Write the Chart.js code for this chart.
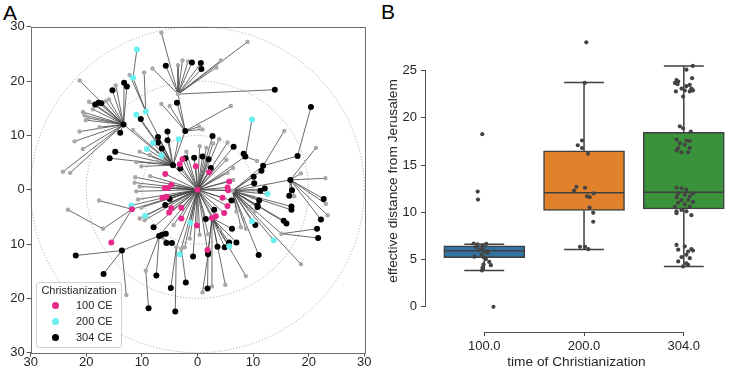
<!DOCTYPE html>
<html>
<head>
<meta charset="utf-8">
<script src="https://cdn.jsdelivr.net/npm/chart.js@4.4.1/dist/chart.umd.min.js"></script>
<style>
  html, body { margin: 0; padding: 0; background: #fff; }
  body { width: 731px; height: 370px; position: relative; overflow: hidden; font-family: 'Liberation Sans', Arial, sans-serif; color: #262626; }
  #chartA { position: absolute; left: 0; top: 0; }
  #chartB { position: absolute; left: 380px; top: 0; }
  .panel { position: absolute; font-size: 21px; line-height: 21px; color: #000; }
  #legendA { position: absolute; left: 36px; top: 282px; width: 84px; height: 64px; border: 1px solid #d0d0d0; border-radius: 3px; background: rgba(255,255,255,0.85); font-size: 11px; }
  #legendA .ttl { position: absolute; left: 0; width: 84px; top: 1px; text-align: center; }
  #legendA .dot { position: absolute; width: 7px; height: 7px; border-radius: 50%; }
  #legendA .lbl { position: absolute; left: 39px; }
</style>
</head>
<body>
<div class="panel" style="left:3px; top:2px;">A</div>
<div class="panel" style="left:381px; top:1px;">B</div>
<canvas id="chartA" width="380" height="370"></canvas>
<canvas id="chartB" width="351" height="370"></canvas>
<div id="legendA"></div>
<script>
// ---- panel A: network, hubs and leaves ----
const hubIds     = ['C', 'D', 'H1', 'E', 'B', 'U2', 'U1', 'F', 'R1', 'R2', 'R3', 'T1', 'S1', 'G', 'S2', 'W', 'M', 'K', 'L', 'N', 'Q', 'Q2'];
const hubX       = [0, -4.4, -13.3, -2.2, -3.5, -9.3, -11.6, 6.3, 16.7, 11.8, 18.0, 8.6, 15.1, 2.6, 1.9, -11.8, -17.0, -6.9, -13.6, -9.3, -2.9, -3.8];
const hubY       = [0, 4.5, 12.0, 10.8, 17.6, 14.4, 20.6, -0.2, 1.8, 4.4, 6.2, 6.1, -8.1, -5.2, -11.9, -3.6, -7.2, -8.5, -11.2, -14.9, -10.8, -10.6];
const hubGroup   = [1, 3, 3, 3, 0, 2, 2, 0, 3, 3, 3, 3, 0, 1, 3, 1, 0, 3, 3, 0, 0, 0];
const hubParent  = [null, 'C', 'D', 'D', 'E', 'D', 'U2', 'C', 'F', 'F', 'R2', 'C', 'F', 'C', 'G', 'C', 'W', 'C', 'K', 'K', 'C', 'C'];

// leaves: [x, y, parent hub]
const nodesNone = [
  [-21.2, 20.1, 'H1'], [-20.3, 13.7, 'H1'], [-20.1, 12.8, 'H1'], [-21.2, 10.7, 'H1'], [-22.1, 8.9, 'H1'],
  [-20.6, 7.5, 'H1'], [-24.2, 3.3, 'H1'], [-22.9, 3.1, 'H1'], [-18.8, 14.8, 'H1'], [-19.5, 16.2, 'H1'],
  [-16.5, 16.3, 'H1'], [-14.7, 19.2, 'H1'], [-17.6, 11.5, 'H1'], [-19.7, 13.2, 'H1'], [-15.9, 16.6, 'H1'],
  [-20.6, 14.3, 'H1'],
  [-11.6, 11.0, 'D'], [-10.4, 7.0, 'D'], [-11.0, 5.1, 'D'], [-10.1, 4.3, 'D'], [-8.6, 6.4, 'D'], [-7.2, 5.2, 'D'],
  [-6.5, 28.9, 'B'], [-8.1, 22.3, 'B'], [-3.5, 22.9, 'B'], [-2.7, 23.8, 'B'], [-1.7, 23.6, 'B'],
  [3.4, 22.5, 'B'], [4.2, 23.8, 'B'], [9.0, 27.2, 'B'],
  [-9.6, 21.6, 'U2'], [-12.2, 21.1, 'U2'],
  [-6.5, 15.8, 'E'], [-5.0, 15.4, 'E'], [6.0, 15.4, 'E'], [0.3, 11.6, 'E'], [0.9, 11.1, 'E'],
  [3.9, 9.3, 'C'], [5.4, 8.7, 'C'], [2.8, 8.5, 'C'], [-2.0, 7.0, 'C'], [0.4, 8.0, 'C'], [1.6, 7.7, 'C'],
  [5.2, 5.5, 'C'], [6.4, 4.0, 'C'], [5.4, 3.1, 'C'], [6.4, 1.8, 'C'],
  [-11.2, 2.3, 'C'], [-11.3, 1.3, 'C'], [-10.4, 0.6, 'C'], [-11.0, -0.3, 'C'], [-10.7, -1.8, 'C'],
  [-10.1, -3.3, 'C'], [-10.4, -5.3, 'C'], [-9.5, -5.6, 'C'], [-8.5, 2.5, 'C'],
  [-2.3, -10.6, 'C'], [-1.4, -9.0, 'C'], [0.4, -8.3, 'C'], [1.9, -8.2, 'C'], [4.0, -7.3, 'C'], [-4.3, -6.5, 'C'],
  [10.7, 5.3, 'T1'], [15.6, 10.8, 'R2'],
  [21.3, 7.7, 'R1'], [23.0, 2.1, 'R1'], [18.6, 3.0, 'R1'], [23.4, -4.7, 'R1'], [23.1, -2.6, 'R1'], [17.4, -1.2, 'R1'],
  [7.0, -4.0, 'F'], [10.3, -4.0, 'F'], [7.8, -6.9, 'F'], [8.7, -7.2, 'F'], [18.6, -13.7, 'F'], [9.3, -3.6, 'F'],
  [8.7, -15.9, 'G'], [5.0, -17.5, 'G'], [2.6, -17.8, 'G'],
  [0.9, -18.9, 'S2'], [-17.7, -2.0, 'W'], [-23.3, -3.7, 'M'], [-12.8, -19.4, 'L']
];
const nodes100 = [
  [-2.7, 5.6, 'C'], [-3.2, 4.7, 'C'], [-0.3, 4.3, 'C'], [2.1, 3.2, 'C'], [-5.8, 2.9, 'C'], [5.7, 1.5, 'C'],
  [5.5, -0.1, 'C'], [5.4, 0.4, 'C'], [-4.7, 0.9, 'C'], [-5.3, 0.3, 'C'], [-5.9, 0.3, 'C'], [-6.3, -1.5, 'C'],
  [-5.6, -1.3, 'C'], [4.5, -1.5, 'C'], [5.4, -3.0, 'C'], [-4.7, -3.4, 'C'], [-2.9, -3.3, 'C'], [-5.1, -4.2, 'C'],
  [4.8, -4.3, 'C'], [-2.9, -5.3, 'C'], [3.3, -4.9, 'C'], [-0.1, -6.6, 'C'], [1.8, -11.1, 'C'],
  [-15.5, -9.7, 'W']
];
const nodes200 = [
  [-10.9, 25.8, 'U1'], [-11.0, 13.8, 'D'], [-8.0, 8.6, 'D'], [-9.1, 7.5, 'D'], [-6.5, 6.3, 'D'], [-3.4, 9.3, 'D'],
  [9.8, 12.9, 'T1'], [12.6, -0.8, 'F'], [9.8, -5.8, 'F'], [13.7, -9.3, 'F'],
  [-11.9, -2.9, 'C'], [-9.4, -4.8, 'C'], [-1.3, -6.1, 'C'], [-3.2, -11.9, 'Q'], [5.7, -10.4, 'G']
];
const nodes304 = [
  [-5.7, 22.8, 'B'], [-1.0, 23.4, 'B'], [0.6, 23.3, 'B'], [0.7, 22.2, 'B'], [13.9, 18.4, 'B'],
  [-3.7, 16.0, 'E'],
  [-15.3, 18.3, 'H1'], [-13.2, 19.7, 'H1'], [-12.7, 19.0, 'H1'], [-18.4, 15.7, 'H1'], [-17.8, 16.0, 'H1'],
  [-17.3, 15.9, 'H1'], [-13.9, 10.5, 'H1'],
  [-10.2, 13.0, 'D'], [-14.8, 7.0, 'D'], [-15.8, 5.8, 'D'], [-7.1, 9.7, 'D'], [-5.4, 10.7, 'D'],
  [-7.1, 8.7, 'D'], [-5.4, 9.1, 'D'], [-6.4, 7.6, 'D'],
  [-3.1, 3.9, 'C'], [-2.2, 5.8, 'C'], [-0.6, 5.9, 'C'], [0.9, 6.1, 'C'], [2.0, 5.6, 'C'], [2.4, 4.0, 'C'],
  [2.7, 9.9, 'C'], [6.5, 7.9, 'C'], [6.1, -2.0, 'C'], [3.0, -3.7, 'C'], [1.5, -5.4, 'C'], [-0.8, -12.3, 'C'],
  [-5.0, -1.7, 'C'], [-5.8, -2.8, 'C'], [-7.9, -6.9, 'C'],
  [8.3, 6.6, 'T1'], [20.4, 15.2, 'R3'],
  [11.5, 3.5, 'F'], [10.1, 2.4, 'F'], [10.2, 1.2, 'F'], [12.1, 0.2, 'F'], [11.3, -0.2, 'F'], [11.1, -2.0, 'F'],
  [10.8, -2.9, 'F'], [10.8, -3.2, 'F'], [16.9, -3.1, 'F'], [16.9, -3.7, 'F'], [15.5, -5.7, 'F'], [16.0, -6.2, 'F'],
  [10.4, -6.5, 'F'], [11.0, -12.0, 'F'],
  [17.0, -0.1, 'R1'], [16.5, -1.1, 'R1'], [22.7, -1.7, 'R1'], [22.2, -5.5, 'R1'],
  [21.5, -7.2, 'S1'], [21.7, -8.9, 'S1'],
  [6.2, -7.2, 'G'], [5.7, -9.7, 'G'], [7.0, -9.7, 'G'], [3.6, -10.5, 'G'], [4.9, -10.6, 'G'], [1.9, -11.5, 'G'],
  [1.8, -18.2, 'S2'],
  [-6.4, -8.3, 'K'], [-5.7, -8.1, 'K'], [-5.6, -9.8, 'K'], [-4.6, -9.8, 'K'], [-7.4, -15.8, 'K'],
  [-21.9, -12.1, 'L'], [-16.9, -15.5, 'L'],
  [-2.1, -17.1, 'Q'], [-4.8, -18.1, 'Q2'], [-4.0, -22.4, 'Q2'], [-8.8, -21.8, 'N']
];
const groupLabels = ['100 CE', '200 CE', '304 CE'];
const ringRadii = [10, 20, 30];
const axisLimitA = 30;

// ---- panel B: box plot + strip ----
const categories = ['100.0', '200.0', '304.0'];
const boxQ1 = [5.2, 10.2, 10.37];
const boxMedian = [5.93, 12.06, 12.13];
const boxQ3 = [6.45, 16.5, 18.48];
const whiskerLow = [3.84, 6.07, 4.27];
const whiskerHigh = [6.63, 23.74, 25.5];
const yTicksB = [0, 5, 10, 15, 20, 25];

const strip100 = [18.27, 12.2, 11.35, 0.0, 6.7, 6.6, 6.65, 6.5, 6.3, 6.2, 6.0, 5.85, 5.9, 5.7, 5.5, 5.3, 5.25, 5.05, 4.75, 4.5, 4.4, 4.15, 3.85];
const jitter100 = [-0.02, -0.066, -0.063, 0.092, -0.106, -0.066, 0.02, -0.017, -0.083, -0.017, -0.05, 0, 0.033, 0.033, -0.026, -0.1, -0.007, 0.017, 0.05, -0.007, 0.066, -0.017, -0.023];
const strip200 = [28.0, 23.7, 17.6, 17.1, 16.8, 16.2, 12.6, 12.7, 12.3, 12.0, 11.7, 11.6, 10.5, 9.95, 9.0, 6.35, 6.35, 6.1];
const jitter200 = [0.023, 0.007, -0.02, -0.063, -0.02, 0.04, 0.01, -0.076, -0.1, 0.096, 0.03, 0.056, 0.056, 0.092, 0.092, -0.04, 0.01, 0.043];
const strip304 = [25.5, 25.1, 24.2, 24.0, 23.85, 23.7, 23.56, 23.5, 23.35, 23.1, 23.1, 22.9, 22.9, 22.8, 22.8, 22.25, 19.1, 18.9, 18.55, 17.7,
  17.6, 17.55, 17.3, 17.15, 16.8, 16.8, 16.55, 16.35, 16.35, 12.6, 12.55, 12.4, 12.0, 12.0, 11.85, 11.7, 11.6, 11.3, 11.3, 11.1,
  11.0, 10.85, 10.6, 10.6, 10.25, 10.1, 10.1, 9.9, 9.7, 6.55, 6.4, 6.1, 6.05, 5.95, 5.85, 5.5, 5.26, 5.15, 4.8, 4.6, 4.45, 4.27];
const jitter304 = [0.09, 0.026, 0.083, -0.073, -0.056, -0.089, -0.063, 0.06, 0.026, 0.076, -0.023, 0.01, 0.092, -0.079, 0.06, -0.007, -0.04, -0.007, 0.07, -0.073,
  0.026, 0.06, -0.04, 0.01, -0.056, 0.06, -0.073, -0.023, 0.043, -0.073, -0.023, 0.026, 0.092, -0.056, 0.01, 0.06, -0.073, -0.023, 0.043, 0.092,
  -0.056, 0.01, -0.089, 0.06, -0.023, -0.073, 0.026, -0.073, 0.076, -0.073, 0.01, 0.076, -0.056, 0.092, 0.043, 0.026, -0.023, 0.06, -0.056, 0.026,
  0.043, -0.007];

Chart.defaults.font.family = "'Liberation Sans', Arial, sans-serif";
Chart.defaults.color = '#262626';

var groupColors = ['#a8a8a8', '#e7298a', '#6cefef', '#000000'];

// build edges and node points
var hubPos = {};
hubIds.forEach(function (id, i) { hubPos[id] = {x: hubX[i], y: hubY[i]}; });
var edgeData = [];
function addEdge(a, b) {
    edgeData.push({x: a.x, y: a.y}, {x: b.x, y: b.y}, {x: b.x, y: null});
}
hubIds.forEach(function (id, i) {
    if (hubParent[i]) addEdge(hubPos[id], hubPos[hubParent[i]]);
});
var leafLists = [nodesNone, nodes100, nodes200, nodes304];
leafLists.forEach(function (list) {
    list.forEach(function (n) { addEdge({x: n[0], y: n[1]}, hubPos[n[2]]); });
});
function groupPoints(g) {
    var pts = leafLists[g].map(function (n) { return {x: n[0], y: n[1]}; });
    hubIds.forEach(function (id, i) { if (hubGroup[i] === g) pts.push({x: hubX[i], y: hubY[i]}); });
    return pts;
}

// legend
var legend = document.getElementById('legendA');
legend.innerHTML = '<div class="ttl">Christianization</div>';
groupLabels.forEach(function (lab, i) {
    var top = 17 + i * 16;
    legend.innerHTML += '<span class="dot" style="left:15px;top:' + (top + 2) + 'px;background:' + groupColors[i + 1] + '"></span>' +
        '<span class="lbl" style="top:' + (top - 1) + 'px">' + lab + '</span>';
});

var ringPlugin = {
    id: 'rings',
    beforeDatasetsDraw: function (chart) {
        var ctx = chart.ctx, x = chart.scales.x, y = chart.scales.y;
        var cx = x.getPixelForValue(0), cy = y.getPixelForValue(0);
        ctx.save();
        ctx.strokeStyle = '#8a8a8a';
        ctx.lineWidth = 0.8;
        ctx.setLineDash([1, 2]);
        ringRadii.forEach(function (r) {
            ctx.beginPath();
            ctx.ellipse(cx, cy, x.getPixelForValue(r) - cx, cy - y.getPixelForValue(r), 0, 0, Math.PI * 2);
            ctx.stroke();
        });
        ctx.restore();
    },
    afterDraw: function (chart) {
        var a = chart.chartArea, ctx = chart.ctx;
        ctx.save();
        ctx.strokeStyle = '#6e6e6e';
        ctx.lineWidth = 1;
        ctx.strokeRect(Math.round(a.left) + 0.5, Math.round(a.top) + 0.5, Math.round(a.right - a.left), Math.round(a.bottom - a.top));
        ctx.restore();
    }
};

function absTick(v) { return Math.abs(v); }
var axisA = {
    type: 'linear',
    min: -axisLimitA,
    max: axisLimitA,
    ticks: {stepSize: 10, callback: absTick, font: {size: 13}, color: '#262626', padding: 2, maxRotation: 0, autoSkip: false},
    grid: {drawOnChartArea: false, drawTicks: true, tickLength: 4, color: '#555'},
    border: {display: false}
};

new Chart(document.getElementById('chartA'), {
    type: 'scatter',
    data: {
        datasets: [{
            type: 'line',
            data: edgeData,
            borderColor: 'rgba(70,70,70,0.8)',
            borderWidth: 1,
            pointRadius: 0,
            pointHitRadius: 0,
            spanGaps: false,
            order: 10
        }, {
            data: groupPoints(0), backgroundColor: groupColors[0], pointRadius: 2.2, borderWidth: 0, order: 5
        }, {
            data: groupPoints(3), backgroundColor: groupColors[3], pointRadius: 3, borderWidth: 0, order: 3
        }, {
            data: groupPoints(2), backgroundColor: groupColors[2], pointRadius: 3, borderWidth: 0, order: 2
        }, {
            data: groupPoints(1), backgroundColor: groupColors[1], pointRadius: 3, borderWidth: 0, order: 1
        }]
    },
    options: {
        responsive: false,
        devicePixelRatio: 1,
        animation: false,
        events: [],
        layout: {padding: {left: 0, right: 15.7, top: 26.7, bottom: 0}},
        scales: {
            x: Object.assign({}, axisA, {
                position: 'bottom',
                afterFit: function (s) { s.height = 17.3; },
                ticks: Object.assign({}, axisA.ticks, {padding: -2})
            }),
            y: Object.assign({}, axisA, {position: 'left', afterFit: function (s) { s.width = 30.7; }})
        },
        plugins: {legend: {display: false}, tooltip: {enabled: false}}
    },
    plugins: [ringPlugin]
});

// ---- panel B ----
var boxColors = ['#3274a1', '#e1812c', '#3a923a'];
var boxEdge = '#3f3f3f';
var boxData = categories.map(function (c, i) { return {x: i, y: [boxQ1[i], boxQ3[i]]}; });
var whiskerData = [];
categories.forEach(function (c, i) {
    whiskerData.push({x: i, y: whiskerLow[i]}, {x: i, y: boxQ1[i]}, {x: i, y: null});
    whiskerData.push({x: i, y: boxQ3[i]}, {x: i, y: whiskerHigh[i]}, {x: i, y: null});
    whiskerData.push({x: i - 0.2, y: whiskerLow[i]}, {x: i + 0.2, y: whiskerLow[i]}, {x: i, y: null});
    whiskerData.push({x: i - 0.2, y: whiskerHigh[i]}, {x: i + 0.2, y: whiskerHigh[i]}, {x: i, y: null});
    whiskerData.push({x: i - 0.4, y: boxMedian[i]}, {x: i + 0.4, y: boxMedian[i]}, {x: i, y: null});
});
var stripData = [];
[[strip100, jitter100], [strip200, jitter200], [strip304, jitter304]].forEach(function (s, i) {
    s[0].forEach(function (v, k) { stripData.push({x: i + s[1][k], y: v}); });
});

var spinePlugin = {
    id: 'trimmedSpines',
    afterDraw: function (chart) {
        var ctx = chart.ctx, a = chart.chartArea, x = chart.scales.x, y = chart.scales.y;
        ctx.save();
        ctx.strokeStyle = '#555';
        ctx.lineWidth = 1;
        ctx.beginPath();
        var bx = Math.round(a.bottom) + 0.5;
        ctx.moveTo(x.getPixelForValue(0), bx);
        ctx.lineTo(x.getPixelForValue(categories.length - 1), bx);
        var lx = Math.round(a.left) - 0.5;
        ctx.moveTo(lx, y.getPixelForValue(yTicksB[0]));
        ctx.lineTo(lx, y.getPixelForValue(yTicksB[yTicksB.length - 1]));
        ctx.stroke();
        ctx.restore();
    }
};

new Chart(document.getElementById('chartB'), {
    type: 'bar',
    data: {
        datasets: [{
            type: 'bar',
            data: boxData,
            backgroundColor: boxColors,
            borderColor: boxEdge,
            borderWidth: 1.5,
            borderSkipped: false,
            barThickness: 81,
            order: 3
        }, {
            type: 'line',
            data: whiskerData,
            borderColor: boxEdge,
            borderWidth: 1.5,
            pointRadius: 0,
            spanGaps: false,
            order: 2
        }, {
            type: 'scatter',
            data: stripData,
            backgroundColor: '#444',
            pointRadius: 2.1,
            borderWidth: 0,
            order: 1
        }]
    },
    options: {
        responsive: false,
        devicePixelRatio: 1,
        animation: false,
        events: [],
        layout: {padding: {left: 0, right: 0, top: 30, bottom: 0}},
        scales: {
            x: {
                type: 'linear',
                offset: false,
                min: -0.584,
                max: 2.433,
                afterBuildTicks: function (s) { s.ticks = categories.map(function (c, i) { return {value: i}; }); },
                afterFit: function (s) { s.height = 38; },
                ticks: {callback: function (v) { return categories[v]; }, font: {size: 13}, color: '#262626', padding: 3, maxRotation: 0},
                grid: {offset: false, drawOnChartArea: false, drawTicks: true, tickLength: 4, color: '#444'},
                border: {display: false},
                title: {display: true, text: 'time of Christianization', font: {size: 13.7}, color: '#262626', padding: {top: 0, bottom: 0}}
            },
            y: {
                type: 'linear',
                min: -2.67,
                max: 29.3,
                afterBuildTicks: function (s) { s.ticks = yTicksB.map(function (v) { return {value: v}; }); },
                afterFit: function (s) { s.width = 46; },
                ticks: {font: {size: 13}, color: '#262626', padding: 4},
                grid: {drawOnChartArea: false, drawTicks: true, tickLength: 5, color: '#444'},
                border: {display: false},
                title: {display: true, text: 'effective distance from Jerusalem', font: {size: 13.7}, color: '#262626', padding: {top: 5, bottom: 0}}
            }
        },
        plugins: {legend: {display: false}, tooltip: {enabled: false}}
    },
    plugins: [spinePlugin]
});
</script>
</body>
</html>
